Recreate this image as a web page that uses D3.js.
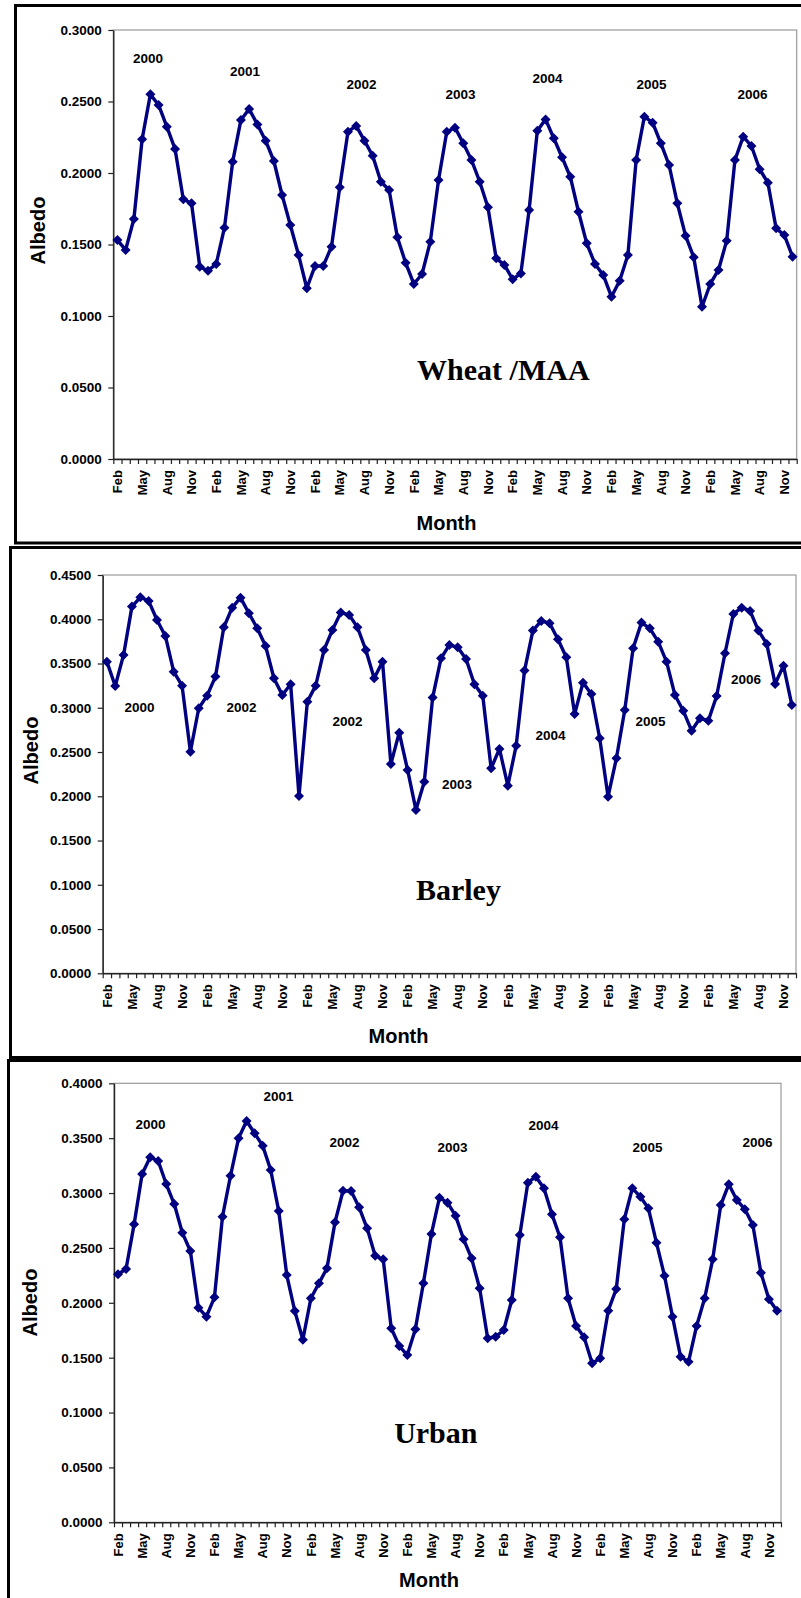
<!DOCTYPE html>
<html>
<head>
<meta charset="utf-8">
<script src="https://cdn.jsdelivr.net/npm/d3@7"></script>
<style>
  html, body { margin: 0; padding: 0; background: #fff; }
  svg { display: block; }
  text { font-family: "Liberation Sans", Arial, sans-serif; font-weight: bold; fill: #000; }
  .panel-title { font-family: "Liberation Serif", "Times New Roman", serif; font-weight: bold; }
</style>
</head>
<body>
<svg id="chart" width="801" height="1598"></svg>
<script>
// ---- Categories: monthly composites, Feb 2000 .. Dec 2006 ----
const monthNames = ["Jan", "Feb", "Mar", "Apr", "May", "Jun", "Jul", "Aug", "Sep", "Oct", "Nov", "Dec"];
const years = [2000, 2001, 2002, 2003, 2004, 2005, 2006];
const categories = [];
years.forEach(yr => monthNames.forEach((m, mi) => {
  if (!(yr === 2000 && mi === 0)) categories.push({ key: m + " " + yr, month: m });
}));

// ---- Albedo series (one value per month) ----
const wheatAlbedo = [
  0.1531, 0.1462, 0.1678, 0.2236, 0.2550, 0.2476, 0.2324, 0.2168, 0.1816, 0.1788, 0.1345,
  0.1317, 0.1364, 0.1618, 0.2079, 0.2371, 0.2448, 0.2340, 0.2226, 0.2084, 0.1846, 0.1636, 0.1427,
  0.1194, 0.1350, 0.1350, 0.1485, 0.1900, 0.2289, 0.2329, 0.2226, 0.2121, 0.1939, 0.1881, 0.1550,
  0.1373, 0.1224, 0.1294, 0.1520, 0.1951, 0.2289, 0.2317, 0.2208, 0.2091, 0.1939, 0.1760, 0.1403,
  0.1357, 0.1257, 0.1298, 0.1741, 0.2296, 0.2375, 0.2243, 0.2110, 0.1974, 0.1729, 0.1508, 0.1364,
  0.1287, 0.1135, 0.1247, 0.1427, 0.2091, 0.2394, 0.2352, 0.2208, 0.2056, 0.1788, 0.1562, 0.1410,
  0.1065, 0.1224, 0.1322, 0.1527, 0.2091, 0.2254, 0.2189, 0.2026, 0.1932, 0.1613, 0.1566, 0.1415
];
const barleyAlbedo = [
  0.3521, 0.3246, 0.3597, 0.4143, 0.4248, 0.4207, 0.3992, 0.3811, 0.3408, 0.3250, 0.2504,
  0.2994, 0.3137, 0.3352, 0.3910, 0.4131, 0.4244, 0.4068, 0.3898, 0.3698, 0.3333, 0.3145, 0.3266,
  0.2003, 0.3069, 0.3250, 0.3653, 0.3879, 0.4075, 0.4049, 0.3910, 0.3653, 0.3333, 0.3521, 0.2365,
  0.2719, 0.2297, 0.1846, 0.2165, 0.3115, 0.3559, 0.3710, 0.3683, 0.3551, 0.3266, 0.3137, 0.2316,
  0.2535, 0.2120, 0.2572, 0.3420, 0.3872, 0.3981, 0.3955, 0.3774, 0.3571, 0.2930, 0.3284, 0.3156,
  0.2655, 0.1996, 0.2429, 0.2975, 0.3672, 0.3962, 0.3898, 0.3747, 0.3521, 0.3145, 0.2967, 0.2741,
  0.2881, 0.2854, 0.3133, 0.3616, 0.4060, 0.4131, 0.4094, 0.3872, 0.3721, 0.3269, 0.3476, 0.3032
];
const urbanAlbedo = [
  0.2260, 0.2308, 0.2715, 0.3174, 0.3326, 0.3292, 0.3082, 0.2900, 0.2639, 0.2472, 0.1956,
  0.1874, 0.2050, 0.2785, 0.3158, 0.3499, 0.3656, 0.3544, 0.3432, 0.3210, 0.2836, 0.2253, 0.1925,
  0.1663, 0.2041, 0.2178, 0.2314, 0.2733, 0.3021, 0.3019, 0.2870, 0.2679, 0.2429, 0.2396, 0.1768,
  0.1606, 0.1524, 0.1760, 0.2178, 0.2627, 0.2958, 0.2912, 0.2794, 0.2579, 0.2405, 0.2132, 0.1677,
  0.1691, 0.1752, 0.2026, 0.2618, 0.3094, 0.3149, 0.3043, 0.2806, 0.2597, 0.2041, 0.1789, 0.1686,
  0.1449, 0.1494, 0.1928, 0.2126, 0.2761, 0.3043, 0.2967, 0.2861, 0.2548, 0.2247, 0.1874, 0.1509,
  0.1463, 0.1789, 0.2041, 0.2396, 0.2891, 0.3080, 0.2937, 0.2852, 0.2709, 0.2274, 0.2032, 0.1928
];

// ---- Y-axis tick values ----
const wheatTicks  = [0, 0.05, 0.10, 0.15, 0.20, 0.25, 0.30];
const barleyTicks = [0, 0.05, 0.10, 0.15, 0.20, 0.25, 0.30, 0.35, 0.40, 0.45];
const urbanTicks  = [0, 0.05, 0.10, 0.15, 0.20, 0.25, 0.30, 0.35, 0.40];

// ---- Year annotations, anchored in data space (month index, albedo) ----
const wheatYearLabels = [
  { text: "2000", at: 3.72,  v: 0.2769 }, { text: "2001", at: 15.50, v: 0.2680 },
  { text: "2002", at: 29.65, v: 0.2587 }, { text: "2003", at: 41.67, v: 0.2517 },
  { text: "2004", at: 52.23, v: 0.2629 }, { text: "2005", at: 64.86, v: 0.2587 },
  { text: "2006", at: 77.13, v: 0.2517 }
];
const barleyYearLabels = [
  { text: "2000", at: 3.90,  v: 0.2953 }, { text: "2002", at: 16.11, v: 0.2953 },
  { text: "2002", at: 28.80, v: 0.2794 }, { text: "2003", at: 41.91, v: 0.2082 },
  { text: "2004", at: 53.11, v: 0.2636 }, { text: "2005", at: 65.08, v: 0.2794 },
  { text: "2006", at: 76.51, v: 0.3269 }
];
const urbanYearLabels = [
  { text: "2000", at: 4.04,  v: 0.3584 }, { text: "2001", at: 19.97, v: 0.3841 },
  { text: "2002", at: 28.19, v: 0.3422 }, { text: "2003", at: 41.63, v: 0.3377 },
  { text: "2004", at: 52.95, v: 0.3574 }, { text: "2005", at: 65.89, v: 0.3377 },
  { text: "2006", at: 79.58, v: 0.3422 }
];

// ---- Panel layout ----
const panels = [
  {
    name: "Wheat /MAA", values: wheatAlbedo, ticks: wheatTicks, yMax: 0.30, years: wheatYearLabels,
    frame: { x: 15.5, y: 5.5, bottom: 543 },
    plot: { left: 113.3, top: 30, right: 796.7, bottom: 459 },
    titleAt: { at: 36.4, v: 0.0552 },
    yTitle: { x: 45, y: 230.5 }, xTitle: { x: 446.5, y: 530 }
  },
  {
    name: "Barley", values: barleyAlbedo, ticks: barleyTicks, yMax: 0.45, years: barleyYearLabels,
    frame: { x: 10.5, y: 547.5, bottom: 1057.5 },
    plot: { left: 102.7, top: 575, right: 796, bottom: 973.3 },
    titleAt: { at: 37.0, v: 0.0828 },
    yTitle: { x: 38, y: 750.5 }, xTitle: { x: 398.5, y: 1043 }
  },
  {
    name: "Urban", values: urbanAlbedo, ticks: urbanTicks, yMax: 0.40, years: urbanYearLabels,
    frame: { x: 8.5, y: 1060.5, bottom: 1610 },
    plot: { left: 114, top: 1083.3, right: 781, bottom: 1522.3 },
    titleAt: { at: 34.36, v: 0.0725 },
    yTitle: { x: 37, y: 1302.5 }, xTitle: { x: 429, y: 1587 }
  }
];

const LINE_COLOR = "#000080";
const svg = d3.select("#chart");
const fmt = d3.format(".4f");

function drawPanel(p) {
  const g = svg.append("g");
  const keys = categories.map(c => c.key);

  // Category band scale (points sit in band centres) and value scale
  const x = d3.scaleBand().domain(keys).range([p.plot.left, p.plot.right]).padding(0);
  const cx = k => x(k) + x.bandwidth() / 2;
  const xi = idx => p.plot.left + (idx + 0.5) * x.bandwidth();
  const y = d3.scaleLinear().domain([0, p.yMax]).range([p.plot.bottom, p.plot.top]);

  // Outer frame
  g.append("rect")
    .attr("x", p.frame.x).attr("y", p.frame.y)
    .attr("width", 820).attr("height", p.frame.bottom - p.frame.y)
    .attr("fill", "none").attr("stroke", "#000").attr("stroke-width", 3);

  // Plot area border (top / right in grey)
  g.append("rect")
    .attr("x", p.plot.left).attr("y", p.plot.top)
    .attr("width", p.plot.right - p.plot.left).attr("height", p.plot.bottom - p.plot.top)
    .attr("fill", "none").attr("stroke", "#9a9a9a").attr("stroke-width", 1.2);

  // Y axis
  const yAxis = g.append("g")
    .attr("transform", `translate(${p.plot.left},0)`)
    .call(d3.axisLeft(y).tickValues(p.ticks).tickFormat(fmt).tickSize(5).tickPadding(6.5).tickSizeOuter(0));
  yAxis.select(".domain").attr("stroke", "#222").attr("stroke-width", 1.4);
  yAxis.selectAll(".tick line").attr("stroke", "#222").attr("stroke-width", 1.2);
  yAxis.selectAll(".tick text")
    .style("font-family", "'Liberation Sans', Arial, sans-serif")
    .style("font-weight", "bold").style("font-size", "13.5px").attr("fill", "#000");

  // X axis: tick marks on category boundaries
  const xb = d3.scaleLinear().domain([0, keys.length]).range([p.plot.left, p.plot.right]);
  const xTicks = g.append("g")
    .attr("transform", `translate(0,${p.plot.bottom})`)
    .call(d3.axisBottom(xb).tickValues(d3.range(keys.length + 1)).tickFormat("").tickSize(5).tickSizeOuter(0));
  xTicks.select(".domain").attr("stroke", "#222").attr("stroke-width", 1.4);
  xTicks.selectAll(".tick line").attr("stroke", "#222").attr("stroke-width", 1.2);

  // X axis labels: every third month, rotated
  const labelKeys = keys.filter((k, i) => i % 3 === 0);
  const xLab = g.append("g")
    .attr("transform", `translate(0,${p.plot.bottom})`)
    .call(d3.axisBottom(x).tickValues(labelKeys)
      .tickFormat(k => categories[keys.indexOf(k)].month).tickSize(0).tickPadding(0));
  xLab.select(".domain").remove();
  xLab.selectAll(".tick text")
    .attr("transform", "translate(0,11) rotate(-90)")
    .attr("x", 0).attr("y", 0).attr("dy", "0.36em")
    .attr("text-anchor", "end")
    .style("font-family", "'Liberation Sans', Arial, sans-serif")
    .style("font-weight", "bold").style("font-size", "13px").attr("fill", "#000");

  // Series line with diamond markers
  const pts = p.values.map((v, i) => ({ k: keys[i], v }));
  g.append("path")
    .datum(pts)
    .attr("fill", "none").attr("stroke", LINE_COLOR).attr("stroke-width", 3.4)
    .attr("stroke-linejoin", "round")
    .attr("d", d3.line().x(d => cx(d.k)).y(d => y(d.v)));
  const r = 5;
  g.append("g").selectAll("path")
    .data(pts).join("path")
    .attr("transform", d => `translate(${cx(d.k)},${y(d.v)})`)
    .attr("d", `M0,${-r}L${r},0L0,${r}L${-r},0Z`)
    .attr("fill", LINE_COLOR);

  // Year annotations
  g.append("g").selectAll("text")
    .data(p.years).join("text")
    .attr("x", d => xi(d.at)).attr("y", d => y(d.v))
    .attr("text-anchor", "middle")
    .style("font-size", "13.5px")
    .text(d => d.text);

  // Land-cover title inside the plot
  g.append("text").attr("class", "panel-title")
    .attr("x", xi(p.titleAt.at)).attr("y", y(p.titleAt.v))
    .style("font-size", "30px")
    .text(p.name);

  // Axis titles
  g.append("text")
    .attr("transform", `translate(${p.yTitle.x},${p.yTitle.y}) rotate(-90)`)
    .attr("text-anchor", "middle").style("font-size", "20px")
    .text("Albedo");
  g.append("text")
    .attr("x", p.xTitle.x).attr("y", p.xTitle.y)
    .attr("text-anchor", "middle").style("font-size", "20px")
    .text("Month");
}

panels.forEach(drawPanel);
</script>
</body>
</html>
